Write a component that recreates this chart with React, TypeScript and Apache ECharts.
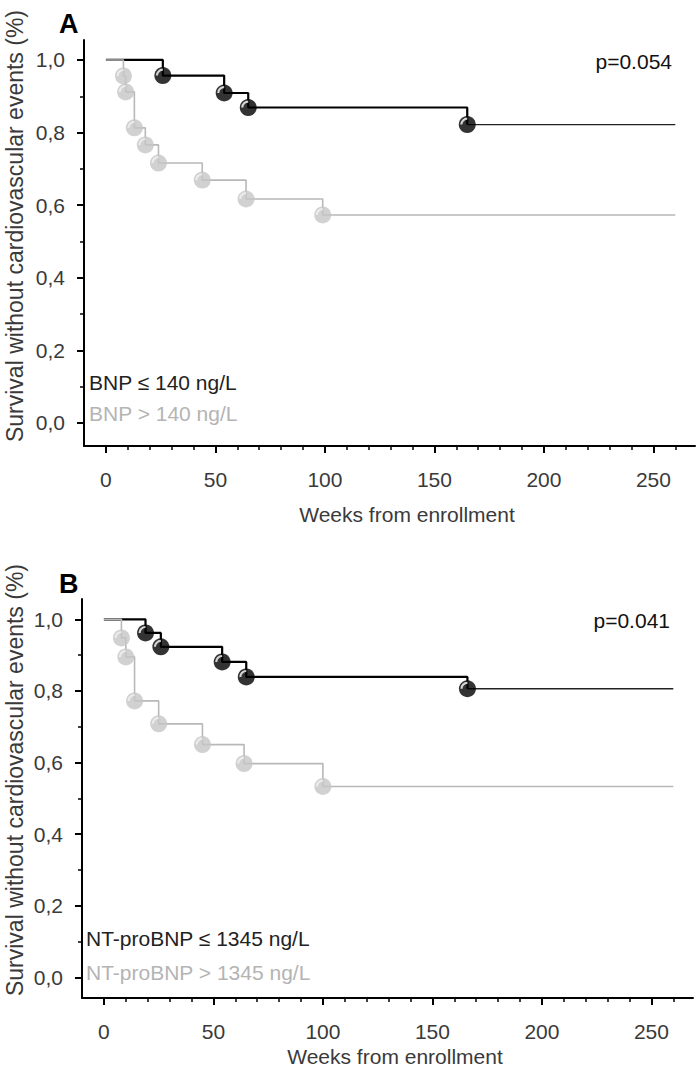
import React, { useEffect, useRef } from "react";
import * as echarts from "echarts";

// Axis ticks
const xMajorTicks = [0, 50, 100, 150, 200, 250];
const xMinorTicks = [10, 20, 30, 40, 60, 70, 80, 90, 110, 120, 130, 140, 160, 170, 180, 190, 210, 220, 230, 240, 260];
const yMajorTicks = [0, 0.2, 0.4, 0.6, 0.8, 1.0];
const yMinorTicks = [0.1, 0.3, 0.5, 0.7, 0.9];

// Panel A (BNP)
const weeksBnpLow = [0, 26, 54, 65, 165, 260];
const survBnpLow = [1, 0.957, 0.909, 0.869, 0.822, 0.822];
const weeksBnpHigh = [0, 8, 9, 13, 18, 24, 44, 64, 99, 260];
const survBnpHigh = [1, 0.956, 0.912, 0.813, 0.766, 0.716, 0.669, 0.617, 0.573, 0.573];

// Panel B (NT-proBNP)
const weeksNtLow = [0, 19, 26, 54, 65, 166, 260];
const survNtLow = [1, 0.962, 0.923, 0.881, 0.839, 0.806, 0.806];
const weeksNtHigh = [0, 8, 10, 14, 25, 45, 64, 100, 260];
const survNtHigh = [1, 0.948, 0.895, 0.772, 0.708, 0.65, 0.597, 0.533, 0.533];

const FONT = "'Liberation Sans', Arial, sans-serif";
const BLACK = "#000000";
const GRAY_LINE = "#b8b8b8";
const GRAY_MARK = "#c6c6c6";
const CRESCENT = "path://M3.5,10 A6.5,6.5 0 0 1 10,3.5 L10,5.5 A4.5,4.5 0 0 0 5.5,10 Z";

const zip = (xs: number[], ys: number[]) => xs.map((x, i) => [x, ys[i]]);
const events = (xs: number[], ys: number[]) => zip(xs, ys).slice(1, -1);

function panelAxes(g: number, yMin: number, yMax: number) {
  const xMajor = {
    type: "value", gridIndex: g, min: -10, max: 269, position: "bottom",
    axisLine: { show: true, onZero: false, lineStyle: { color: BLACK, width: 2 } },
    axisTick: { show: true, customValues: xMajorTicks, length: 7, lineStyle: { color: BLACK, width: 2 } },
    axisLabel: { show: true, customValues: xMajorTicks, margin: 23, fontSize: 21, color: "#3a3a3a", fontFamily: FONT },
    splitLine: { show: false },
  };
  const xMinor = {
    type: "value", gridIndex: g, min: -10, max: 269, position: "bottom",
    axisLine: { show: false, onZero: false },
    axisTick: { show: true, customValues: xMinorTicks, length: 4, lineStyle: { color: BLACK, width: 1.5 } },
    axisLabel: { show: false },
    splitLine: { show: false },
  };
  const yMajor = {
    type: "value", gridIndex: g, min: yMin, max: yMax, position: "left",
    axisLine: { show: true, onZero: false, lineStyle: { color: BLACK, width: 2 } },
    axisTick: { show: true, customValues: yMajorTicks, length: 7, lineStyle: { color: BLACK, width: 2 } },
    axisLabel: {
      show: true, customValues: yMajorTicks, margin: 19, fontSize: 21, color: "#3a3a3a", fontFamily: FONT,
      formatter: (v: number) => v.toFixed(1).replace(".", ","),
    },
    splitLine: { show: false },
  };
  const yMinor = {
    type: "value", gridIndex: g, min: yMin, max: yMax, position: "left",
    axisLine: { show: false, onZero: false },
    axisTick: { show: true, customValues: yMinorTicks, length: 4, lineStyle: { color: BLACK, width: 1.5 } },
    axisLabel: { show: false },
    splitLine: { show: false },
  };
  return { x: [xMajor, xMinor], y: [yMajor, yMinor] };
}

function panelSeries(axisIdx: number, lowW: number[], lowS: number[], highW: number[], highS: number[]) {
  const common = { xAxisIndex: axisIdx, yAxisIndex: axisIdx, silent: true };
  const low = zip(lowW, lowS);
  const high = zip(highW, highS);
  return [
    {
      ...common, type: "line", step: "end", data: low.slice(0, -1), showSymbol: false,
      lineStyle: { color: BLACK, width: 2.2 }, z: 2,
    },
    {
      ...common, type: "line", step: "end", data: low.slice(-2), showSymbol: false,
      lineStyle: { color: "#222", width: 1.4 }, z: 2,
    },
    {
      ...common, type: "line", step: "end", data: high, showSymbol: false,
      lineStyle: { color: GRAY_LINE, width: 1.6 }, z: 2,
    },
    {
      ...common, type: "scatter", data: events(lowW, lowS), symbol: "circle", symbolSize: 17,
      itemStyle: { color: BLACK }, z: 3,
    },
    {
      ...common, type: "scatter", data: events(highW, highS), symbol: "circle", symbolSize: 17,
      itemStyle: { color: GRAY_MARK }, z: 3,
    },
    {
      ...common, type: "scatter", data: events(lowW, lowS), symbol: CRESCENT, symbolKeepAspect: true,
      symbolSize: 7, symbolOffset: [-3.5, -3.5], itemStyle: { color: "#ffffff" }, z: 4,
    },
    {
      ...common, type: "scatter", data: events(highW, highS), symbol: CRESCENT, symbolKeepAspect: true,
      symbolSize: 7, symbolOffset: [-3.5, -3.5], itemStyle: { color: "#f2f2f2" }, z: 4,
    },
  ];
}

function txt(text: string, x: number, y: number, opts: any = {}) {
  return {
    type: "text", x, y, rotation: opts.rotation || 0, silent: true,
    style: {
      text, fontFamily: FONT, fontSize: opts.fontSize || 21, fontWeight: opts.fontWeight || "normal",
      fill: opts.fill || "#3a3a3a", textAlign: opts.align || "left", textVerticalAlign: "middle",
    },
  };
}

export default function App() {
  const ref = useRef<HTMLDivElement>(null);
  useEffect(() => {
    if (!ref.current) return;
    const chart = echarts.init(ref.current, null, { renderer: "svg" });
    const a = panelAxes(0, -0.0634, 1.055);
    const b = panelAxes(1, -0.0578, 1.0567);
    const yTitle = "Survival without cardiovascular events (%)";
    const option: any = {
      animation: false,
      backgroundColor: "#ffffff",
      grid: [
        { left: 84, top: 40, width: 611, height: 406, containLabel: false },
        { left: 82, top: 599, width: 611, height: 399, containLabel: false },
      ],
      xAxis: [...a.x, ...b.x],
      yAxis: [...a.y, ...b.y],
      series: [
        ...panelSeries(0, weeksBnpLow, survBnpLow, weeksBnpHigh, survBnpHigh),
        ...panelSeries(2, weeksNtLow, survNtLow, weeksNtHigh, survNtHigh),
      ],
      graphic: [
        txt("A", 59, 24, { fontSize: 27, fontWeight: "bold", fill: "#000" }),
        txt("B", 59, 584, { fontSize: 27, fontWeight: "bold", fill: "#000" }),
        txt("p=0.054", 672, 61, { align: "right", fill: "#111", fontSize: 21 }),
        txt("p=0.041", 670, 620, { align: "right", fill: "#111", fontSize: 21 }),
        txt("BNP ≤ 140 ng/L", 89, 382, { fontSize: 21, fill: "#222" }),
        txt("BNP > 140 ng/L", 89, 413, { fontSize: 21, fill: "#b4b4b4" }),
        txt("NT-proBNP ≤ 1345 ng/L", 86, 938, { fontSize: 21, fill: "#222" }),
        txt("NT-proBNP > 1345 ng/L", 86, 972, { fontSize: 21, fill: "#b4b4b4" }),
        txt("Weeks from enrollment", 407, 514, { align: "center", fontSize: 21 }),
        txt("Weeks from enrollment", 395, 1056, { align: "center", fontSize: 21 }),
        txt(yTitle, 15, 226, { align: "center", fontSize: 23, rotation: Math.PI / 2 }),
        txt(yTitle, 15, 780, { align: "center", fontSize: 23, rotation: Math.PI / 2 }),
      ],
    };
    chart.setOption(option);
    return () => chart.dispose();
  }, []);
  return (
    <div
      ref={ref}
      style={{ position: "absolute", left: 0, top: 0, width: 700, height: 1074, background: "#fff" }}
    />
  );
}
